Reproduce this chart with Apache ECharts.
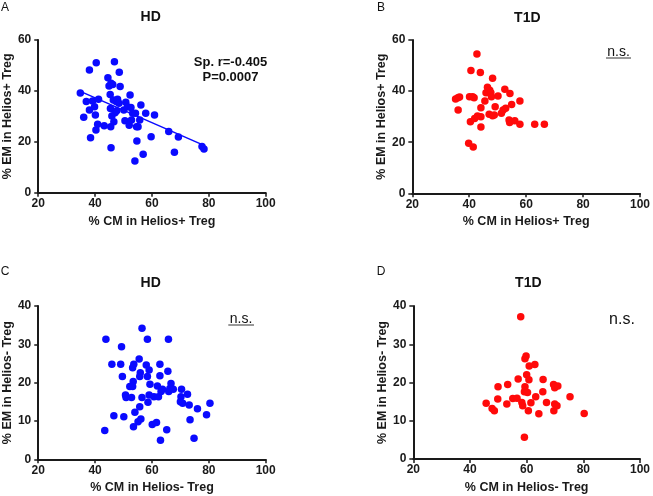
<!DOCTYPE html>
<html>
<head>
<meta charset="utf-8">
<script src="https://cdn.jsdelivr.net/npm/echarts@6/dist/echarts.min.js"></script>
<style>
html,body{margin:0;padding:0;background:#fff;}
#chart{width:653px;height:496px;}
</style>
</head>
<body>
<div id="chart"></div>
<script>
// ---- Data ----
var xTicks = [20, 40, 60, 80, 100];
var yTicksPos = [0, 20, 40, 60];
var yTicksNeg = [0, 10, 20, 30, 40];

// Panel A: HD, Helios+ Treg
var hdPosCM = [34.8,36.0,36.9,38.0,38.0,38.4,39.1,39.8,40.1,40.3,40.4,40.9,41.2,43.2,44.5,44.9,45.3,45.4,45.5,45.6,45.9,46.2,46.4,46.6,46.8,47.0,47.4,47.9,48.4,48.5,48.8,47.6,50.1,50.5,50.8,51.4,52.0,52.3,52.6,52.8,53.2,54.0,54.2,54.6,54.7,55.1,55.7,56.1,56.9,57.8,59.7,60.9,65.9,67.9,69.3,77.6,78.3,45.6];
var hdPosEM = [39.2,29.6,35.8,48.2,32.5,21.6,36.0,33.8,30.5,24.6,51.1,26.9,36.7,26.3,45.2,41.9,38.6,33.1,25.9,17.7,30.1,42.5,36.4,27.9,51.5,31.4,35.8,36.7,35.1,47.3,41.7,32.2,32.5,28.3,35.5,33.8,26.5,38.4,33.5,28.6,31.2,12.4,31.2,25.9,20.3,25.9,28.6,34.5,15.1,31.2,22.0,30.5,24.0,15.9,21.9,18.1,17.2,43.0];
var hdPosFitX = [34.8, 78.3];
var hdPosFitY = [39.8, 18.6];

// Panel B: T1D, Helios+ Treg
var t1dPosCM = [35.2,36.0,36.6,36.1,40.1,40.6,40.4,41.2,41.7,39.8,41.4,41.9,42.7,43.9,44.1,44.1,44.1,45.5,45.9,46.4,47.0,47.2,47.6,47.8,48.2,48.2,48.8,49.1,50.1,51.3,51.9,52.5,52.8,54.0,54.2,54.3,54.9,56.0,57.8,57.8,63.0,66.4,42.9];
var t1dPosEM = [36.9,37.4,37.7,32.6,37.8,48.1,28.0,37.8,37.4,19.6,18.1,29.3,54.5,47.3,33.5,30.0,26.0,36.1,39.4,41.5,30.9,40.3,39.4,37.8,45.0,30.4,30.7,33.9,38.1,31.3,32.6,40.7,33.3,28.7,27.7,39.1,34.8,28.4,36.1,27.0,27.0,27.0,30.3];

// Panel C: HD, Helios- Treg
var hdNegCM = [43.4,43.8,45.9,46.6,49.0,49.3,49.6,50.1,50.7,50.9,52.2,52.8,53.2,53.4,53.2,53.5,53.6,54.0,55.5,55.1,55.7,55.9,55.7,56.1,56.5,56.5,58.0,58.4,58.4,58.6,59.0,59.0,59.3,60.1,60.7,61.6,61.9,62.3,62.8,62.8,63.0,63.2,63.7,65.2,65.6,65.8,65.9,66.3,66.7,67.5,70.4,70.2,70.0,70.8,72.5,73.1,73.4,74.8,76.0,79.2,80.4];
var hdNegEM = [7.5,31.3,24.8,11.4,24.8,29.4,21.6,11.1,16.8,16.1,19.0,16.1,23.9,20.3,19.0,8.5,24.8,12.3,26.2,9.8,13.7,22.6,21.6,10.5,34.2,16.1,24.6,31.3,21.6,14.9,23.3,16.8,19.6,9.1,16.3,9.6,19.1,16.3,24.8,21.8,5.0,17.7,18.3,7.7,23.0,31.3,17.7,18.5,19.8,18.3,18.3,16.3,15.0,14.6,17.0,14.2,10.3,5.5,13.2,11.6,14.6];

// Panel D: T1D, Helios- Treg
var t1dNegCM = [45.7,47.8,48.6,49.9,49.8,53.0,53.3,55.1,56.6,57.0,57.9,58.3,58.6,59.2,59.2,59.4,59.4,59.8,60.0,60.3,60.6,60.8,60.9,61.5,62.9,63.2,64.3,65.8,65.7,67.0,69.5,69.9,69.9,69.6,70.7,71.0,75.3,80.3];
var t1dNegEM = [14.6,13.2,12.6,18.9,15.7,14.4,19.5,15.8,15.9,20.9,37.2,14.8,13.9,5.7,17.6,18.9,26.2,26.9,22.0,17.4,12.6,20.7,24.3,14.7,24.7,16.3,11.8,20.8,17.6,14.8,19.5,18.6,14.4,12.6,13.9,19.1,16.3,11.9];

function pairs(xs, ys) { return xs.map(function (x, i) { return [x, ys[i]]; }); }

// ---- Style ----
var FONT = '"Liberation Sans", Arial, sans-serif';
var AX = '#1a1a1a';
var BLUE = '#0a0aff';
var RED = '#ff0a0a';

var grids = [
  { left: 35.67, top: 40, width: 230, height: 152.67 },
  { left: 412.33, top: 40, width: 230, height: 153.33 },
  { left: 35.67, top: 306, width: 230, height: 153.33 },
  { left: 413.33, top: 306, width: 230, height: 153 }
];

function xAxis(i, name) {
  return {
    gridIndex: i, type: 'value', min: xTicks[0], max: xTicks[xTicks.length - 1], interval: 20,
    name: name, nameLocation: 'middle', nameGap: 22,
    nameTextStyle: { fontFamily: FONT, fontWeight: 'bold', fontSize: 12.5, color: AX },
    axisLine: { show: true, onZero: false, lineStyle: { color: AX, width: 2 } },
    axisTick: { show: true, length: 4, lineStyle: { color: AX, width: 1.5 } },
    axisLabel: { margin: 5, fontFamily: FONT, fontWeight: 'bold', fontSize: 12, color: AX },
    splitLine: { show: false }
  };
}
function yAxis(i, name, ticks) {
  return {
    gridIndex: i, type: 'value', min: ticks[0], max: ticks[ticks.length - 1], interval: ticks[1] - ticks[0],
    name: name, nameLocation: 'middle', nameGap: 22, nameRotate: 90,
    nameTextStyle: { fontFamily: FONT, fontWeight: 'bold', fontSize: 12.5, color: AX },
    axisLine: { show: true, onZero: false, lineStyle: { color: AX, width: 2 } },
    axisTick: { show: true, length: 4, lineStyle: { color: AX, width: 1.5 } },
    axisLabel: { margin: 7, fontFamily: FONT, fontWeight: 'bold', fontSize: 12, color: AX },
    splitLine: { show: false }
  };
}

function scatter(i, data, color) {
  return {
    type: 'scatter', xAxisIndex: i, yAxisIndex: i, data: data,
    symbol: 'circle', symbolSize: 7.5, itemStyle: { color: color, opacity: 1 },
    silent: true, z: 3
  };
}

function txt(x, y, text, size, weight, align) {
  return {
    type: 'text', x: x, y: y, silent: true,
    style: { text: text, fontFamily: FONT, fontSize: size, fontWeight: weight || 'normal',
      fill: '#111', align: align || 'center', verticalAlign: 'middle' }
  };
}
function uline(x1, x2, y) {
  return { type: 'line', silent: true, shape: { x1: x1, y1: y, x2: x2, y2: y },
    style: { stroke: '#333', lineWidth: 1 } };
}

var option = {
  animation: false,
  backgroundColor: '#fff',
  grid: grids,
  xAxis: [
    xAxis(0, '% CM in Helios+ Treg'),
    xAxis(1, '% CM in Helios+ Treg'),
    xAxis(2, '% CM in Helios- Treg'),
    xAxis(3, '% CM in Helios- Treg')
  ],
  yAxis: [
    yAxis(0, '% EM in Helios+ Treg', yTicksPos),
    yAxis(1, '% EM in Helios+ Treg', yTicksPos),
    yAxis(2, '% EM in Helios- Treg', yTicksNeg),
    yAxis(3, '% EM in Helios- Treg', yTicksNeg)
  ],
  series: [
    {
      type: 'line', xAxisIndex: 0, yAxisIndex: 0, data: pairs(hdPosFitX, hdPosFitY),
      symbol: 'none', lineStyle: { color: BLUE, width: 1.5 }, silent: true, z: 2
    },
    scatter(0, pairs(hdPosCM, hdPosEM), BLUE),
    scatter(1, pairs(t1dPosCM, t1dPosEM), RED),
    scatter(2, pairs(hdNegCM, hdNegEM), BLUE),
    scatter(3, pairs(t1dNegCM, t1dNegEM), RED)
  ],
  graphic: [
    txt(5, 8, 'A', 12, 'normal'),
    txt(381, 8, 'B', 12, 'normal'),
    txt(5, 272, 'C', 12, 'normal'),
    txt(381, 272, 'D', 12, 'normal'),
    txt(150.67, 17, 'HD', 14, 'bold'),
    txt(527.3, 18, 'T1D', 14, 'bold'),
    txt(150.67, 283.5, 'HD', 14, 'bold'),
    txt(528.3, 283.5, 'T1D', 14, 'bold'),
    txt(230.5, 62.7, 'Sp. r=-0.405', 13, 'bold'),
    txt(230.5, 77.3, 'P=0.0007', 13, 'bold'),
    txt(618.5, 52, 'n.s.', 14, 'normal'),
    uline(606, 631, 58),
    txt(241, 319, 'n.s.', 14, 'normal'),
    uline(228.3, 254, 325),
    txt(622, 320, 'n.s.', 16, 'normal')
  ]
};

var chart = echarts.init(document.getElementById('chart'), null, { renderer: 'canvas' });
chart.setOption(option);
</script>
</body>
</html>
